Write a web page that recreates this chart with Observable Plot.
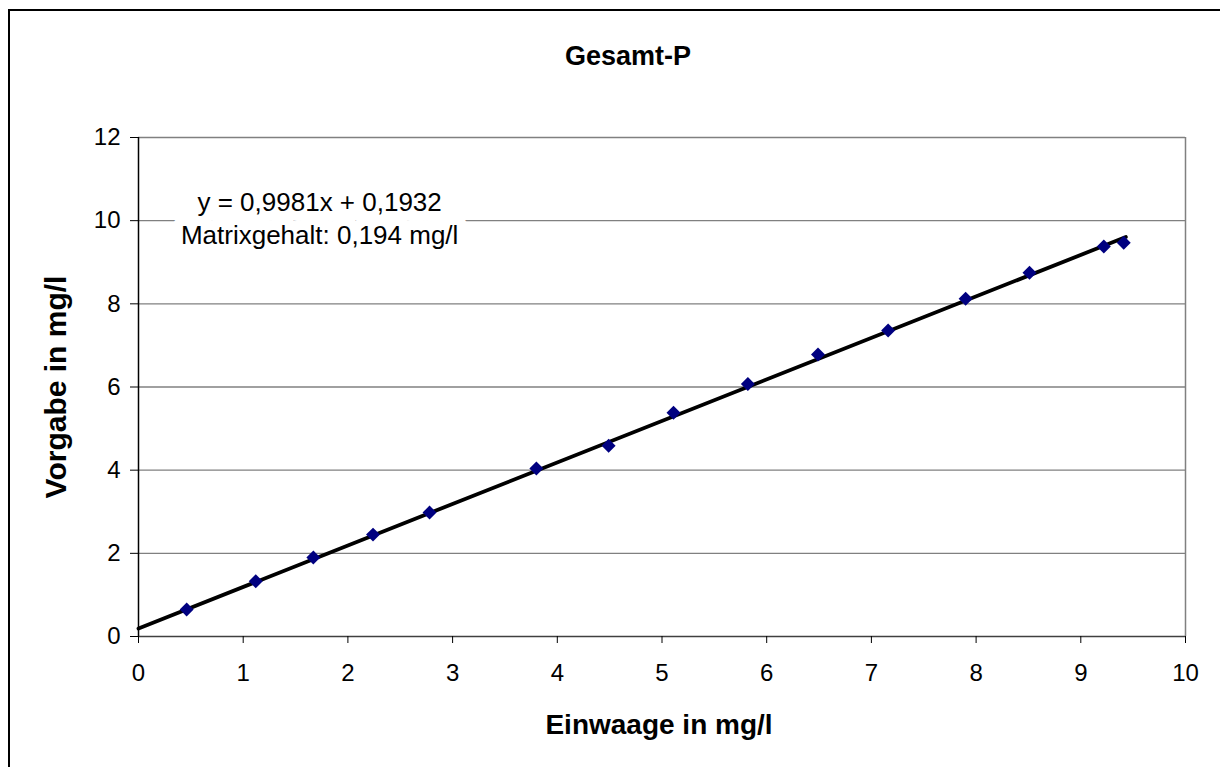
<!DOCTYPE html>
<html><head><meta charset="utf-8">
<script src="https://cdn.jsdelivr.net/npm/d3@7"></script>
<script src="https://cdn.jsdelivr.net/npm/@observablehq/plot@0.6"></script>
<style>
html,body{margin:0;padding:0;background:#fff;overflow:hidden;width:1220px;height:767px;}
#wrap{position:relative;width:1220px;height:767px;}
#frame{position:absolute;left:8px;top:9px;width:1400px;height:1000px;border:2px solid #000;box-sizing:border-box;pointer-events:none;}
#chart svg{display:block;}
</style></head><body><div id="wrap"><div id="chart"></div><div id="frame"></div></div>
<script>
// Data
const einwaage = [0.46, 1.12, 1.67, 2.24, 2.78, 3.80, 4.49, 5.11, 5.82, 6.49, 7.16, 7.90, 8.51, 9.22, 9.41];
const vorgabe  = [0.65, 1.33, 1.90, 2.45, 2.98, 4.04, 4.59, 5.38, 6.07, 6.78, 7.36, 8.12, 8.75, 9.38, 9.47];
const trendX = [0, 9.43];
const trendY = [0.1932, 9.6054];
const xTicks = [0, 1, 2, 3, 4, 5, 6, 7, 8, 9, 10];
const yTicks = [0, 2, 4, 6, 8, 10, 12];
const titleText = "Gesamt-P";
const xLabel = "Einwaage in mg/l";
const yLabel = "Vorgabe in mg/l";
const annotation = "y = 0,9981x + 0,1932\nMatrixgehalt: 0,194 mg/l";
const annotationPos = {x: 1.73, y: 10.09};

const points = einwaage.map((x, i) => ({x, y: vorgabe[i]}));
const trend = trendX.map((x, i) => ({x, y: trendY[i]}));

const font = "'Liberation Sans', Arial, sans-serif";

const chart = Plot.plot({
  width: 1220,
  height: 767,
  marginLeft: 138,
  marginRight: 35,
  marginTop: 137,
  marginBottom: 131,
  style: {fontFamily: font, fontSize: "24px", background: "transparent", color: "#000"},
  x: {domain: [0, 10]},
  y: {domain: [0, 12]},
  marks: [
    Plot.gridY(yTicks.filter(d => d > 0 && d < 12), {stroke: "#808080", strokeOpacity: 1, strokeWidth: 1.3}),
    Plot.ruleY([12], {stroke: "#808080", strokeWidth: 1.5}),
    Plot.ruleX([10], {stroke: "#808080", strokeWidth: 1.5}),
    Plot.ruleY([0], {stroke: "#404040", strokeWidth: 1.5}),
    Plot.ruleX([0], {stroke: "#000", strokeWidth: 1.5}),
    Plot.axisX(xTicks, {tickSize: 7, tickPadding: 20, label: null, stroke: "#000", fill: "#000"}),
    Plot.axisY(yTicks, {tickSize: 8, tickPadding: 10, label: null, stroke: "#000", fill: "#000"}),
    Plot.text([annotation], {x: () => annotationPos.x, y: () => annotationPos.y, text: d => d, fontSize: 26, lineHeight: 1.27, lineAnchor: "middle", fill: "#000", stroke: "white", strokeWidth: 20}),
    Plot.line(trend, {x: "x", y: "y", stroke: "#000", strokeWidth: 3.8}),
    Plot.dot(points, {x: "x", y: "y", symbol: "diamond2", r: 6.3, fill: "#000080", stroke: "none"}),
    Plot.text([titleText], {frameAnchor: "top", textAnchor: "middle", dx: -34, dy: -92, fontSize: 27, fontWeight: "bold", fill: "#000"}),
    Plot.text([xLabel], {frameAnchor: "bottom", textAnchor: "middle", dx: -3, dy: 97, fontSize: 28, fontWeight: "bold", fill: "#000"}),
    Plot.text([yLabel], {frameAnchor: "left", textAnchor: "middle", dx: -82, rotate: -90, fontSize: 30, fontWeight: "bold", fill: "#000"})
  ]
});
document.getElementById("chart").appendChild(chart);
</script>
</body></html>
